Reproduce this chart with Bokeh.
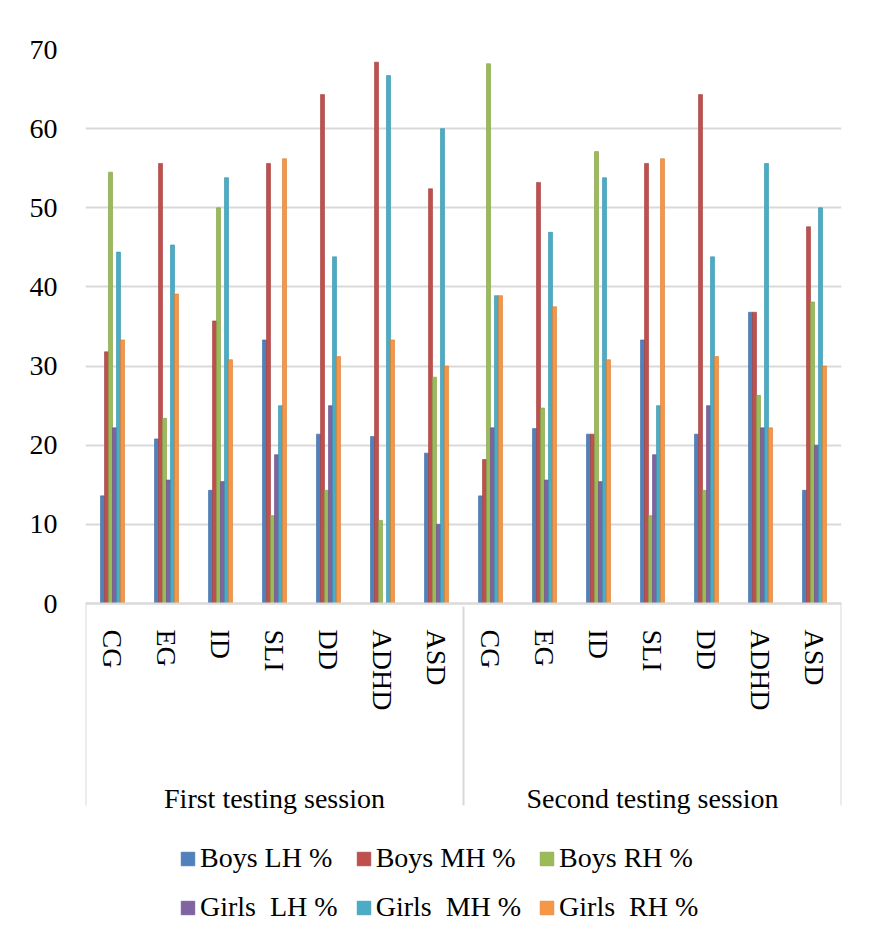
import numpy as np
from bokeh.plotting import figure
from bokeh.models import FactorRange, Range1d, Legend, LegendItem, ColumnDataSource
from bokeh.transform import dodge
from bokeh.embed import file_html
from bokeh.resources import INLINE

sessions = ["First testing session", "Second testing session"]
groups = ["CG", "EG", "ID", "SLI", "DD", "ADHD", "ASD"]

boys_lh = [13.6, 20.8, 14.3, 33.3, 21.4, 21.1, 19.0, 13.6, 22.1, 21.4, 33.3, 21.4, 36.8, 14.3]
boys_mh = [31.8, 55.6, 35.7, 55.6, 64.3, 68.4, 52.4, 18.2, 53.2, 21.4, 55.6, 64.3, 36.8, 47.6]
boys_rh = [54.5, 23.4, 50.0, 11.1, 14.3, 10.5, 28.6, 68.2, 24.7, 57.1, 11.1, 14.3, 26.3, 38.1]
girls_lh = [22.2, 15.6, 15.4, 18.8, 25.0, 0.0, 10.0, 22.2, 15.6, 15.4, 18.8, 25.0, 22.2, 20.0]
girls_mh = [44.4, 45.3, 53.8, 25.0, 43.8, 66.7, 60.0, 38.9, 46.9, 53.8, 25.0, 43.8, 55.6, 50.0]
girls_rh = [33.3, 39.1, 30.8, 56.2, 31.2, 33.3, 30.0, 38.9, 37.5, 30.8, 56.2, 31.2, 22.2, 30.0]

series_names = ["Boys LH %", "Boys MH %", "Boys RH %", "Girls  LH %", "Girls  MH %", "Girls  RH %"]
series_values = [boys_lh, boys_mh, boys_rh, girls_lh, girls_mh, girls_rh]
colors = ["#4F81BD", "#C0504D", "#9BBB59", "#8064A2", "#4BACC6", "#F79646"]
edge_colors = ["#3A6AA3", "#A33D3A", "#7F9E43", "#664E88", "#3392AB", "#D97B2E"]
y_ticks = [0, 10, 20, 30, 40, 50, 60, 70]

FONT = "Liberation Serif"
GRID = "#d9d9d9"
# blank middle level only adds room between group names and session names
factors = [(s, " ", g) for s in sessions for g in groups]

src = ColumnDataSource(dict(x=factors, **{f"s{i}": v for i, v in enumerate(series_values)}))

# the frame also holds the category labels and the legend below the zero line
plot_px, below_px = 554, 324
y_top = y_ticks[-1]
px_per_unit = plot_px / y_top
y_start = -below_px / px_per_unit

p = figure(
    x_range=FactorRange(*factors, group_padding=0, subgroup_padding=0, factor_padding=0, range_padding=0),
    y_range=Range1d(y_start, y_top),
    frame_width=756, frame_height=plot_px + below_px,
    min_border_left=85, min_border_top=49, min_border_right=30, min_border_bottom=2,
    output_backend="svg", toolbar_location=None,
)
p.outline_line_color = None
p.xgrid.grid_line_color = None
p.ygrid.grid_line_color = GRID
p.ygrid.grid_line_width = 2

bw = 0.074
n = len(series_names)
items = []
for k in range(n):
    r = p.vbar(x=dodge("x", (k - (n - 1) / 2) * bw, range=p.x_range), top=f"s{k}", bottom=0, width=bw,
               source=src, fill_color=colors[k], line_color=edge_colors[k], line_width=0.6)
    items.append(LegendItem(label=series_names[k], renderers=[r]))

# outer edge lines of the category-axis label box (matching the middle separator)
sep_len = 202 / px_per_unit
for factor, side in ((factors[0], -0.5), (factors[-1], 0.5)):
    edge_src = ColumnDataSource(dict(x=[factor], y0=[0], y1=[-sep_len]))
    p.segment(x0=dodge("x", side, range=p.x_range), x1=dodge("x", side, range=p.x_range),
              y0="y0", y1="y1", source=edge_src, line_color=GRID, line_width=2)

p.yaxis.ticker = y_ticks
p.yaxis.axis_line_color = None
p.yaxis.major_tick_line_color = None
p.yaxis.minor_tick_line_color = None
p.yaxis.major_label_standoff = 22
p.yaxis.major_label_text_font = FONT
p.yaxis.major_label_text_font_size = "28px"
p.yaxis.major_label_text_color = "black"

xa = p.xaxis[0]
xa.fixed_location = 0
xa.axis_line_color = GRID
xa.axis_line_width = 2
xa.major_tick_line_color = None
xa.minor_tick_line_color = None
xa.major_label_orientation = "vertical"
xa.major_label_standoff = 20
xa.major_label_text_font = FONT
xa.major_label_text_font_size = "28px"
xa.major_label_text_color = "black"
xa.subgroup_text_font = FONT
xa.subgroup_text_font_size = "25px"
xa.subgroup_text_color = "black"
xa.group_text_font = FONT
xa.group_text_font_size = "28px"
xa.group_text_color = "black"
xa.group_text_font_style = "normal"
xa.separator_line_color = GRID
xa.separator_line_width = 2

legend = Legend(items=items, orientation="horizontal", ncols=3, location=(94, 4),
                label_text_font=FONT, label_text_font_size="28px", label_text_color="black",
                glyph_width=17, glyph_height=17, label_standoff=4, spacing=17,
                border_line_color=None, background_fill_alpha=0, padding=4, margin=0)
p.add_layout(legend)

open("out.html", "w").write(file_html(p, INLINE))
